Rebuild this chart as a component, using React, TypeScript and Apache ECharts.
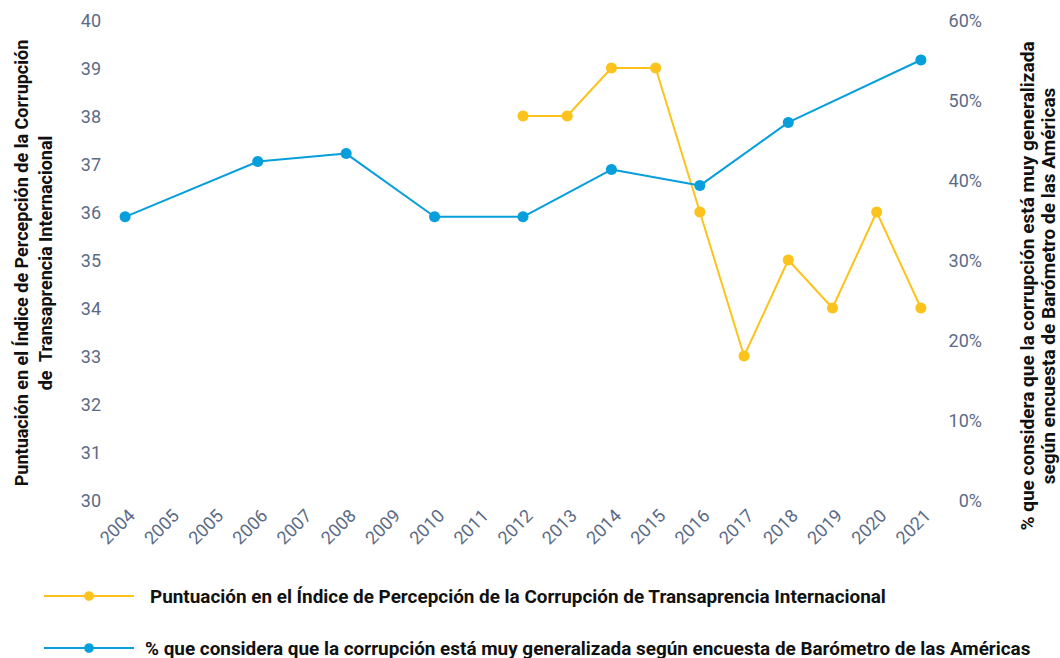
import React, { useEffect, useRef } from "react";
import * as echarts from "echarts";

const years = [
  "2004", "2005", "2005", "2006", "2007", "2008", "2009", "2010", "2011",
  "2012", "2013", "2014", "2015", "2016", "2017", "2018", "2019", "2020", "2021",
];

const cpiScore = [
  null, null, null, null, null, null, null, null, null,
  38, 38, 39, 39, 36, 33, 35, 34, 36, 34,
];

const barometerPct = [
  35.4, null, null, 42.3, null, 43.3, null, 35.4, null,
  35.4, null, 41.3, null, 39.3, null, 47.2, null, null, 55.0,
];

const cpiName =
  "Puntuación en el Índice de Percepción de la Corrupción de Transaprencia Internacional";
const barName =
  "% que considera que la corrupción está muy generalizada según encuesta de Barómetro de las Américas";
const leftAxisName =
  "Puntuación en el Índice de Percepción de la Corrupción\nde  Transaprencia Internacional";
const rightAxisName =
  "% que considera que la corrupción está muy generalizada\nsegún encuesta de Barómetro de las Américas";

const YELLOW = "#FBC31C";
const BLUE = "#069FDB";
const LABEL = "#5B6B86";
const FONT = "Roboto";

const legendText = (padLeft: number) => ({
  fontFamily: FONT,
  fontSize: 18.9,
  fontWeight: "bold",
  color: "#111",
  lineHeight: 22,
  padding: [0, 0, 0, padLeft],
});

export default function App() {
  const ref = useRef<HTMLDivElement>(null);
  useEffect(() => {
    document.body.style.margin = "0";
    const chart = echarts.init(ref.current!, null, { renderer: "svg" });
    chart.setOption({
      animation: false,
      textStyle: { fontFamily: FONT },
      grid: {
        left: 103,
        right: 117,
        top: 20,
        bottom: 158,
        containLabel: false,
        outerBoundsMode: "none",
      },
      legend: [
        {
          orient: "horizontal",
          left: 38,
          top: 580,
          itemWidth: 90,
          itemHeight: 12,
          data: [cpiName],
          textStyle: legendText(11),
        },
        {
          orient: "horizontal",
          left: 38,
          top: 632,
          itemWidth: 90,
          itemHeight: 12,
          data: [barName],
          textStyle: legendText(6),
        },
      ],
      graphic: [
        {
          type: "text",
          x: 33,
          y: 263,
          rotation: Math.PI / 2,
          style: {
            text: leftAxisName,
            align: "center",
            verticalAlign: "middle",
            fontFamily: FONT,
            fontSize: 18,
            fontWeight: "bold",
            fill: "#111",
            lineHeight: 24,
          },
        },
        {
          type: "text",
          x: 1038,
          y: 286,
          rotation: Math.PI / 2,
          style: {
            text: rightAxisName,
            align: "center",
            verticalAlign: "middle",
            fontFamily: FONT,
            fontSize: 19,
            fontWeight: "bold",
            fill: "#111",
            lineHeight: 21,
          },
        },
      ],
      xAxis: {
        type: "category",
        data: years,
        boundaryGap: true,
        axisLine: { show: false },
        axisTick: { show: false },
        splitLine: { show: false },
        axisLabel: {
          rotate: 45,
          interval: 0,
          margin: 6,
          verticalAlign: "top",
          color: LABEL,
          fontSize: 18,
          fontFamily: FONT,
        },
      },
      yAxis: [
        {
          type: "value",
          min: 30,
          max: 40,
          interval: 1,
          position: "left",
          axisLine: { show: false },
          axisTick: { show: false },
          splitLine: { show: false },
          axisLabel: { color: LABEL, fontSize: 18, margin: 2, fontFamily: FONT },
        },
        {
          type: "value",
          min: 0,
          max: 60,
          interval: 10,
          position: "right",
          axisLine: { show: false },
          axisTick: { show: false },
          splitLine: { show: false },
          axisLabel: {
            color: LABEL,
            fontSize: 18,
            margin: 39,
            align: "right",
            formatter: "{value}%",
            fontFamily: FONT,
          },
        },
      ],
      series: [
        {
          name: cpiName,
          type: "line",
          yAxisIndex: 0,
          data: cpiScore,
          connectNulls: true,
          symbol: "circle",
          symbolSize: 11,
          itemStyle: { color: YELLOW },
          lineStyle: { color: YELLOW, width: 2 },
        },
        {
          name: barName,
          type: "line",
          yAxisIndex: 1,
          data: barometerPct,
          connectNulls: true,
          symbol: "circle",
          symbolSize: 11,
          itemStyle: { color: BLUE },
          lineStyle: { color: BLUE, width: 2 },
        },
      ],
    });
    return () => chart.dispose();
  }, []);
  return (
    <div
      ref={ref}
      style={{ position: "absolute", left: 0, top: 0, width: 1060, height: 658 }}
    />
  );
}
